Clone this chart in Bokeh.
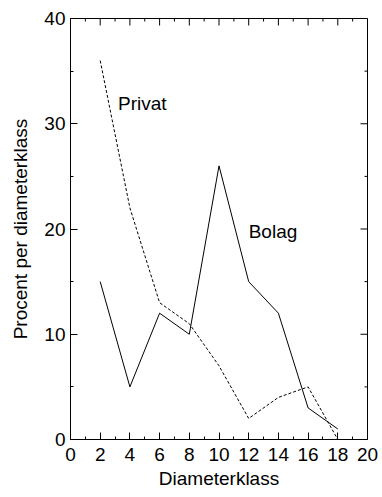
import math
from bokeh.plotting import figure
from bokeh.models import Range1d, FixedTicker
from bokeh.core.properties import value
from bokeh.embed import file_html
from bokeh.resources import INLINE

diameter = [2, 4, 6, 8, 10, 12, 14, 16, 18]
bolag = [15, 5, 12, 10, 26, 15, 12, 3, 1]
privat = [36, 22, 13, 11, 7, 2, 4, 5, 0]
x_ticks = [0, 2, 4, 6, 8, 10, 12, 14, 16, 18, 20]
x_minor = [1, 3, 5, 7, 9, 11, 13, 15, 17, 19]
y_ticks = [0, 10, 20, 30, 40]
y_minor = [5, 15, 25, 35]

FONT = "Liberation Sans"
FS = "19px"
X0, X1, Y0, Y1 = 0, 20, 0, 40

p = figure(width=382, height=497, frame_width=297, frame_height=421,
           x_range=Range1d(X0, X1), y_range=Range1d(Y0, Y1),
           output_backend="svg", toolbar_location=None,
           min_border_left=70, min_border_right=15, min_border_top=18, min_border_bottom=58)
p.grid.visible = False
p.outline_line_color = "black"
p.outline_line_width = 1
p.background_fill_color = "white"
p.border_fill_color = "white"

def style(ax):
    ax.axis_line_color = "black"
    ax.major_tick_in = 7
    ax.major_tick_out = 0
    ax.minor_tick_in = 3
    ax.minor_tick_out = 0
    ax.major_tick_line_color = "black"
    ax.minor_tick_line_color = "black"
    ax.major_label_text_font = FONT
    ax.major_label_text_font_size = FS
    ax.major_label_text_color = "black"
    ax.axis_label_text_font = FONT
    ax.axis_label_text_font_size = FS
    ax.axis_label_text_font_style = "normal"
    ax.axis_label_text_color = "black"

xa = p.xaxis[0]
xa.ticker = FixedTicker(ticks=x_ticks, minor_ticks=x_minor)
xa.axis_label = "Diameterklass"
style(xa)
xa.major_label_standoff = 8
xa.axis_label_standoff = 4

ya = p.yaxis[0]
ya.ticker = FixedTicker(ticks=y_ticks, minor_ticks=y_minor)
ya.axis_label = "Procent per diameterklass"
style(ya)
ya.major_label_standoff = 5
ya.axis_label_standoff = 10

# inward ticks on the top and right frame edges
p.ray(x=x_ticks, y=[Y1] * len(x_ticks), length=7, length_units="screen",
      angle=-math.pi / 2, line_color="black", line_width=1)
p.ray(x=x_minor, y=[Y1] * len(x_minor), length=3, length_units="screen",
      angle=-math.pi / 2, line_color="black", line_width=1)
p.ray(x=[X1] * len(y_ticks), y=y_ticks, length=7, length_units="screen",
      angle=math.pi, line_color="black", line_width=1)
p.ray(x=[X1] * len(y_minor), y=y_minor, length=3, length_units="screen",
      angle=math.pi, line_color="black", line_width=1)

p.line(diameter, bolag, line_color="black", line_width=1)
p.line(diameter, privat, line_color="black", line_width=1, line_dash="3 2")

p.text(x=[3.2], y=[31.9], text=["Privat"], text_font=value(FONT), text_font_size=FS,
       text_baseline="middle", text_align="left", text_color="black")
p.text(x=[12.0], y=[19.8], text=["Bolag"], text_font=value(FONT), text_font_size=FS,
       text_baseline="middle", text_align="left", text_color="black")

open("out.html", "w").write(file_html(p, INLINE))
